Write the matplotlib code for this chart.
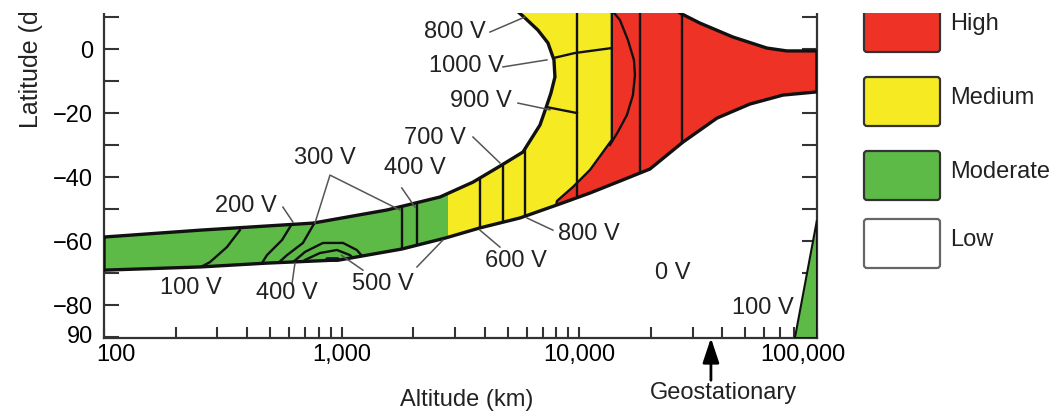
import matplotlib.pyplot as plt
import numpy as np
from matplotlib.patches import Polygon, FancyBboxPatch, Rectangle
from matplotlib.ticker import LogLocator, NullFormatter
from matplotlib.transforms import ScaledTranslation

plt.rcParams['font.family'] = ['Liberation Sans', 'DejaVu Sans']
plt.rcParams['font.size'] = 17
plt.rcParams['text.color'] = '#222222'

# ---- data (altitude km, latitude deg) ----
# inner (upper) edge of the charging band, folding back round the low region
upper_alt = [100, 254, 757, 1551, 2591, 3568, 4634, 5790, 6830, 7236, 7596, 7895, 7820, 7378, 6695, 5848, 5412]
upper_lat = [-58.75, -56.6, -54.4, -50.3, -46.25, -41.6, -36.6, -32.2, -23.75, -18.4, -13.75, -8.75, -3.4, 1.9, 5.9, 10.0, 12.2]

# top edge of the high (red) lobe
redtop_alt = [24040, 26500, 32150, 44260, 61520, 74650, 100000]
redtop_lat = [13.75, 11.25, 8.1, 3.75, 0.3, -0.6, -0.6]

# outer (lower) edge of the band
lower_alt = [100, 254, 485, 984, 1790, 2720, 3817, 5625, 8285, 11082, 15250, 19820, 27280, 37920, 52200, 71880, 100000]
lower_lat = [-69.1, -68.1, -66.9, -65.9, -62.5, -59.1, -55.9, -52.8, -48.4, -45.0, -40.9, -37.5, -29.1, -21.6, -17.2, -14.4, -13.4]

# medium / high border
redge_alt = [13700, 13700, 11080, 9400, 8050, 7500]
redge_lat = [14, -28.4, -37.8, -43.1, -47.5, -60]

green_limit = 2800  # moderate / medium border

# red lobe inner contour
lobe_alt = [13450, 14820, 16010, 16970, 17140, 16810, 15860, 14530, 13450]
lobe_lat = [12.8, 9.06, 2.8, -3.4, -8.1, -14.4, -20.6, -25.9, -30.0]

# iso-voltage lines across the band
vline_alt = [1790, 2074, 3817, 4771, 5904, 9770, 18000, 27000]
vline_top = [20, 20, 20, 20, -10, 20, 20, 20]

contours = [
    ([373, 329, 279, 246], [-56.6, -61.9, -66.6, -68.75]),
    ([624, 561, 485, 462], [-54.1, -59.7, -64.4, -66.9]),
    ([772, 687, 589, 540], [-54.1, -60.6, -64.4, -66.9]),
    ([624, 701, 834, 1013, 1158, 1229], [-66.6, -63.4, -60.6, -60.6, -62.8, -65.0]),
    ([701, 810, 955, 1084, 1137], [-65.9, -63.75, -62.8, -64.4, -65.9]),
    ([7800, 9583, 13700], [-2.8, -1.25, 0.3]),
    ([7236, 9770], [-18.1, -20.0]),
]
blob_alt = [870, 955]
blob_lat = [-65.5, -65.5]

# right-hand moderate spike
spike_alt = [80700, 100000, 100000]
spike_lat = [-90.3, -53.4, -90.3]

labels = [
    ('800 V', 2997, 5.3), ('1000 V', 3336, -5.3), ('900 V', 3855, -16.2),
    ('700 V', 2470, -27.8), ('400 V', 2035, -37.2), ('300 V', 851, -34.1),
    ('200 V', 396, -49.1), ('100 V', 232, -74.7), ('400 V', 589, -76.25),
    ('500 V', 1493, -73.4), ('600 V', 5407, -66.2), ('800 V', 10960, -57.8),
    ('0 V', 24770, -70.0), ('100 V', 59160, -80.9),
]

leaders = [
    ([4207, 5904], [5.3, 10.0]),
    ([4771, 7307], [-5.6, -3.4]),
    ([5516, 7520], [-16.9, -19.0]),
    ([3568, 4634], [-27.5, -35.6]),
    ([1790, 2035], [-43.4, -49.4]),
    ([772, 893, 1758], [-54.4, -39.4, -50.3]),
    ([566, 624], [-49.4, -54.1]),
    ([618, 636], [-73.4, -66.9]),
    ([1000, 1229], [-64.5, -69.1]),
    ([2074, 2667], [-68.1, -59.7]),
    ([3817, 4634], [-56.6, -61.9]),
    ([6020, 7741], [-52.8, -56.6]),
]

geo_alt = 35786

xticks = [100, 1000, 10000, 100000]
xtick_labels = ['100', '1,000', '10,000', '100,000']
yticks = [10, 0, -10, -20, -30, -40, -50, -60, -70, -80, -90]
ytick_labels = ['', '0', '', '\u221220', '', '\u221240', '', '\u221260', '', '\u221280', '90']

legend_labels = ['High', 'Medium', 'Moderate', 'Low']
c_red, c_yel, c_grn = '#EE3326', '#F6EB22', '#5DBA47'
legend_colors = [c_red, c_yel, c_grn, 'white']

# ---- figure ----
fig = plt.figure(figsize=(10.57, 4.12), dpi=100)
ax = fig.add_axes([104 / 1057, 1 - 338 / 412, 713 / 1057, 325 / 412])
ax.set_xscale('log')
ax.set_xlim(100, 100000)
ax.set_ylim(-90.3, 11.25)

band_x = upper_alt + [upper_alt[-1], redtop_alt[0]] + redtop_alt + lower_alt[::-1]
band_y = upper_lat + [30, 30] + redtop_lat + lower_lat[::-1]
band_xy = np.column_stack([band_x, band_y])

band = Polygon(band_xy, closed=True, fc=c_yel, ec='none', zorder=1)
ax.add_patch(band)

g = ax.axvspan(100, green_limit, color=c_grn, lw=0, zorder=2)
g.set_clip_path(band)

red_x = [redge_alt[0]] + redge_alt + [redge_alt[-1], 1e6, 1e6]
red_y = [40] + redge_lat + [-120, -120, 40]
red = Polygon(np.column_stack([red_x, red_y]), closed=True, fc=c_red, ec='none', zorder=2)
ax.add_patch(red)
red.set_clip_path(band)

line_kw = dict(color='#111111', lw=1.7, zorder=4)
vl = ax.vlines(vline_alt, -95, vline_top, **line_kw)
vl.set_clip_path(band)
for cx, cy in contours:
    l, = ax.plot(cx, cy, **line_kw)
    l.set_clip_path(band)
ax.plot(redge_alt, redge_lat, **line_kw)[0].set_clip_path(band)
ax.plot(lobe_alt, lobe_lat, **line_kw)[0].set_clip_path(band)
ax.plot(blob_alt, blob_lat, color='#1b1b48', lw=3.5, zorder=4, solid_capstyle='round')

ax.add_patch(Polygon(band_xy, closed=True, fill=False, ec='#111111', lw=2.4, zorder=5))

ax.add_patch(Polygon(np.column_stack([spike_alt, spike_lat]), closed=True,
                     fc=c_grn, ec='#111111', lw=1.5, zorder=5))

for lx, ly in leaders:
    ax.plot(lx, ly, color='#555555', lw=1.1, zorder=6)

for txt, x, y in labels:
    ax.text(x, y, txt, ha='center', va='center', zorder=7)

# axes styling
for side in ['left', 'right', 'bottom']:
    ax.spines[side].set_linewidth(1.6)
    ax.spines[side].set_color('#333333')
ax.spines['top'].set_visible(False)

ax.set_xticks(xticks, xtick_labels)
ax.xaxis.set_minor_locator(LogLocator(base=10, subs=range(2, 10)))
ax.xaxis.set_minor_formatter(NullFormatter())
ax.tick_params(axis='x', which='both', direction='in', length=8, width=1.5,
               color='#333333', pad=4, top=False)
ax.set_yticks(yticks, ytick_labels)
ax.tick_params(axis='y', direction='in', length=11, width=1.5, color='#333333',
               pad=8, right=True)

# end labels sit inside the axis span, as in the source
xl = ax.get_xticklabels()
xl[0].set_transform(xl[0].get_transform() + ScaledTranslation(0.12, 0, fig.dpi_scale_trans))
xl[-1].set_transform(xl[-1].get_transform() + ScaledTranslation(-0.14, 0, fig.dpi_scale_trans))
yl = ax.get_yticklabels()
yl[-1].set_transform(yl[-1].get_transform() + ScaledTranslation(0, 0.03, fig.dpi_scale_trans))

tr = ax.get_xaxis_transform()
ax.annotate('', xy=(geo_alt, 0.0), xycoords=tr, xytext=(geo_alt, -0.13), textcoords=tr,
            arrowprops=dict(arrowstyle='-|>,head_length=0.75,head_width=0.25',
                            color='black', lw=2, mutation_scale=20, shrinkA=0, shrinkB=0),
            annotation_clip=False)
ax.text(40200, -0.169, 'Geostationary', transform=tr, ha='center', va='center')
ax.text(0.509, -0.191, 'Altitude (km)', transform=ax.transAxes, ha='center', va='center')

# overlay in pixel units for legend, y label and the cropped top edge
lay = fig.add_axes([0, 0, 1, 1], zorder=5)
lay.set_xlim(0, 1057)
lay.set_ylim(412, 0)
lay.axis('off')

lay.text(31, 128, 'Latitude (deg)', rotation=90, ha='center', va='bottom', fontsize=18)

box_tops = [3, 77, 151, 219]
for lab, col, top in zip(legend_labels, legend_colors, box_tops):
    ec = '#666666' if col == 'white' else '#333333'
    lay.add_patch(FancyBboxPatch((864, top), 76, 49, boxstyle='round,pad=0,rounding_size=3',
                                 fc=col, ec=ec, lw=1.6))
    lay.text(950, top + 21, lab, ha='left', va='center')

lay.add_patch(Rectangle((0, 0), 1057, 13, fc='white', ec='none', zorder=10))

fig.savefig('out.png', dpi=100)
